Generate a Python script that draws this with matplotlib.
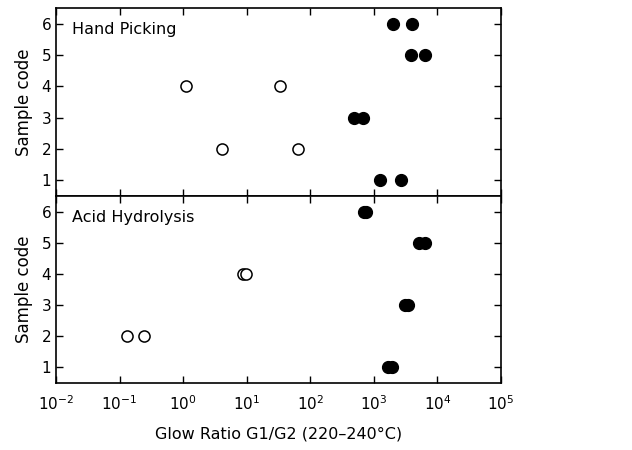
import matplotlib
matplotlib.use("Agg")
import matplotlib.pyplot as plt
import numpy as np

# Hand picking: open = G2-dominated, filled = G1-dominated
hp_open_x = [1.1, 33, 4.1, 65]
hp_open_y = [4, 4, 2, 2]
hp_fill_x = [2000, 4000, 3800, 6500, 490, 680, 1240, 2700]
hp_fill_y = [6, 6, 5, 5, 3, 3, 1, 1]

# Acid hydrolysis
ah_open_x = [8.7, 9.7, 0.13, 0.24]
ah_open_y = [4, 4, 2, 2]
ah_fill_x = [690, 760, 5200, 6300, 3100, 3500, 1700, 1950]
ah_fill_y = [6, 6, 5, 5, 3, 3, 1, 1]

panel_titles = ["Hand Picking", "Acid Hydrolysis"]
y_ticks = [1, 2, 3, 4, 5, 6]
x_ticks = [1e-2, 1e-1, 1e0, 1e1, 1e2, 1e3, 1e4, 1e5]

plt.rcParams['font.family'] = ['DejaVu Sans']
plt.rcParams['mathtext.default'] = 'regular'

fig = plt.figure(figsize=(6.32, 4.5), dpi=100)
ax_top = fig.add_axes([0.0886, 0.5644, 0.704, 0.4176])
ax_bot = fig.add_axes([0.0886, 0.1489, 0.704, 0.4155], sharex=ax_top)

data = [(hp_open_x, hp_open_y, hp_fill_x, hp_fill_y),
        (ah_open_x, ah_open_y, ah_fill_x, ah_fill_y)]

for ax, (ox, oy, fx, fy), title in zip([ax_top, ax_bot], data, panel_titles):
    ax.plot(ox, oy, 'o', ms=8, mfc='white', mec='black', mew=1.1, ls='none')
    ax.plot(fx, fy, 'o', ms=8.5, mfc='black', mec='black', ls='none')
    ax.set_xscale('log')
    ax.set_xlim(1e-2, 1e5)
    ax.set_ylim(0.5, 6.5)
    ax.set_yticks(y_ticks)
    ax.set_xticks(x_ticks)
    ax.minorticks_off()
    ax.tick_params(direction='in', top=True, right=True, length=5,
                   labelsize=11, width=1)
    ax.set_ylabel("Sample code", fontsize=12, labelpad=6)
    ax.text(0.035, 0.86, title, transform=ax.transAxes, fontsize=11.5)
    for s in ax.spines.values():
        s.set_linewidth(1.2)

ax_top.tick_params(labelbottom=False)
ax_bot.set_xticklabels([r'$10^{%d}$' % int(np.log10(v)) for v in x_ticks])
ax_bot.tick_params(axis='x', pad=8)
ax_bot.set_xlabel("Glow Ratio G1/G2 (220\u2013240\u00b0C)", fontsize=11.5, labelpad=10)

fig.savefig("out.png", dpi=100)
